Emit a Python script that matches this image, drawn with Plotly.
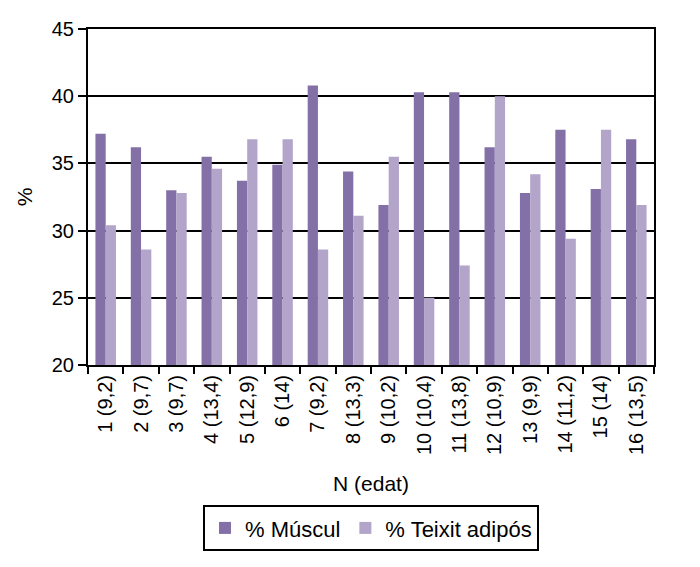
import plotly.graph_objects as go

categories = ["1 (9,2)", "2 (9,7)", "3 (9,7)", "4 (13,4)", "5 (12,9)", "6 (14)", "7 (9,2)", "8 (13,3)",
              "9 (10,2)", "10 (10,4)", "11 (13,8)", "12 (10,9)", "13 (9,9)", "14 (11,2)", "15 (14)", "16 (13,5)"]
muscul = [37.2, 36.2, 33.0, 35.5, 33.7, 34.9, 40.8, 34.4, 31.9, 40.3, 40.3, 36.2, 32.8, 37.5, 33.1, 36.8]
teixit = [30.4, 28.6, 32.8, 34.6, 36.8, 36.8, 28.6, 31.1, 35.5, 25.0, 27.4, 40.0, 34.2, 29.4, 37.5, 31.9]
y_ticks = [20, 25, 30, 35, 40, 45]

FONT = "Liberation Sans, Arial, sans-serif"

fig = go.Figure()
fig.add_trace(go.Bar(x=categories, y=muscul, name="% Múscul", marker=dict(color="#8370a7", line=dict(width=0))))
fig.add_trace(go.Bar(x=categories, y=teixit, name="% Teixit adipós", marker=dict(color="#b3a4c9", line=dict(width=0))))

fig.update_layout(
    width=684, height=551,
    margin=dict(l=80, r=38, t=21, b=194, autoexpand=False),
    paper_bgcolor="white", plot_bgcolor="white",
    font=dict(family=FONT, color="black", size=21),
    barmode="group", bargap=0.42, bargroupgap=0.0,
    showlegend=True,
    legend=dict(orientation="h", x=0.5, xanchor="center", y=-0.417, yanchor="top",
                bordercolor="black", borderwidth=2, font=dict(size=22, family=FONT),
                itemwidth=30, traceorder="normal"),
)
fig.update_xaxes(
    showline=True, linecolor="black", linewidth=2, mirror=True,
    ticks="outside", ticklen=7, tickwidth=2, tickcolor="black", tickson="boundaries",
    tickangle=-90, tickfont=dict(size=20, family=FONT),
    title=dict(text="N (edat)", font=dict(size=21, family=FONT), standoff=22),
    showgrid=False, automargin=False,
)
fig.update_yaxes(
    range=[20, 45], tickvals=y_ticks,
    showline=True, linecolor="black", linewidth=2, mirror=True,
    ticks="outside", ticklen=8, tickwidth=2, tickcolor="black",
    tickfont=dict(size=20, family=FONT),
    showgrid=True, gridcolor="black", gridwidth=2,
    title=dict(text="%", font=dict(size=21, family=FONT), standoff=13),
    zeroline=False, automargin=False,
)
fig.write_html("out.html")
